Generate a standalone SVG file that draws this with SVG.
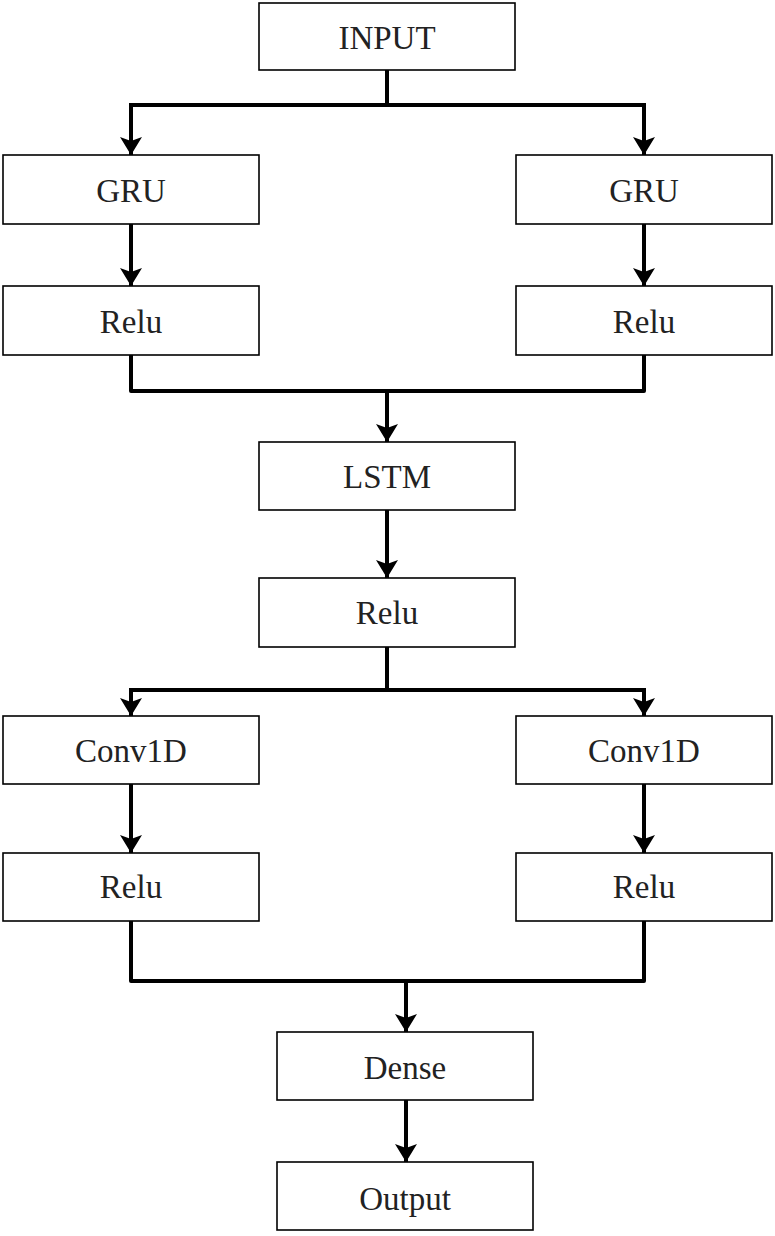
<svg xmlns="http://www.w3.org/2000/svg" width="775" height="1236" viewBox="0 0 775 1236">
<defs>
<marker id="arrd" markerUnits="userSpaceOnUse" markerWidth="24" markerHeight="20" viewBox="0 0 24 20" refX="12" refY="19" orient="0">
<path d="M1,1 L12,5 L23,1 L12,19 Z" fill="#000"/>
</marker>
</defs>
<style>
.box{fill:#fff;stroke:#000;stroke-width:1.6}
.lbl{font-family:"Liberation Serif","Times New Roman",serif;font-size:33px;fill:#222;text-anchor:middle}
.c{fill:none;stroke:#000;stroke-width:4;stroke-linejoin:round;stroke-linecap:butt}
.a{marker-end:url(#arrd)}
</style>
<rect width="775" height="1236" fill="#fff"/>
<g id="connectors">
<path class="c" d="M387,70 V105 M131,105 H644"/>
<path class="c a" d="M131,103 V155"/>
<path class="c a" d="M644,103 V155"/>
<path class="c a" d="M131,224 V286"/>
<path class="c a" d="M644,224 V286"/>
<path class="c" d="M131,355 V391 H644 V355"/>
<path class="c a" d="M387,391 V442"/>
<path class="c a" d="M387,510 V578"/>
<path class="c" d="M387,647 V690 M131,690 H644"/>
<path class="c a" d="M131,688 V716"/>
<path class="c a" d="M644,688 V716"/>
<path class="c a" d="M131,784 V853"/>
<path class="c a" d="M644,784 V853"/>
<path class="c" d="M131,921 V981 H644 V921"/>
<path class="c a" d="M406,981 V1032"/>
<path class="c a" d="M406,1100 V1162"/>
</g>
<g id="n-input"><rect class="box" x="259" y="3" width="256" height="67"/><text class="lbl" x="387" y="49">INPUT</text></g>
<g id="n-gru1"><rect class="box" x="3" y="155" width="256" height="69"/><text class="lbl" x="131" y="202">GRU</text></g>
<g id="n-gru2"><rect class="box" x="516" y="155" width="256" height="69"/><text class="lbl" x="644" y="202">GRU</text></g>
<g id="n-relu1"><rect class="box" x="3" y="286" width="256" height="69"/><text class="lbl" x="131" y="333">Relu</text></g>
<g id="n-relu2"><rect class="box" x="516" y="286" width="256" height="69"/><text class="lbl" x="644" y="333">Relu</text></g>
<g id="n-lstm"><rect class="box" x="259" y="442" width="256" height="68"/><text class="lbl" x="387" y="488">LSTM</text></g>
<g id="n-relu3"><rect class="box" x="259" y="578" width="256" height="69"/><text class="lbl" x="387" y="624">Relu</text></g>
<g id="n-conv1"><rect class="box" x="3" y="716" width="256" height="68"/><text class="lbl" x="131" y="762">Conv1D</text></g>
<g id="n-conv2"><rect class="box" x="516" y="716" width="256" height="68"/><text class="lbl" x="644" y="762">Conv1D</text></g>
<g id="n-relu4"><rect class="box" x="3" y="853" width="256" height="68"/><text class="lbl" x="131" y="898">Relu</text></g>
<g id="n-relu5"><rect class="box" x="516" y="853" width="256" height="68"/><text class="lbl" x="644" y="898">Relu</text></g>
<g id="n-dense"><rect class="box" x="277" y="1032" width="256" height="68"/><text class="lbl" x="405" y="1079">Dense</text></g>
<g id="n-output"><rect class="box" x="277" y="1162" width="256" height="68"/><text class="lbl" x="405" y="1210">Output</text></g>
</svg>
